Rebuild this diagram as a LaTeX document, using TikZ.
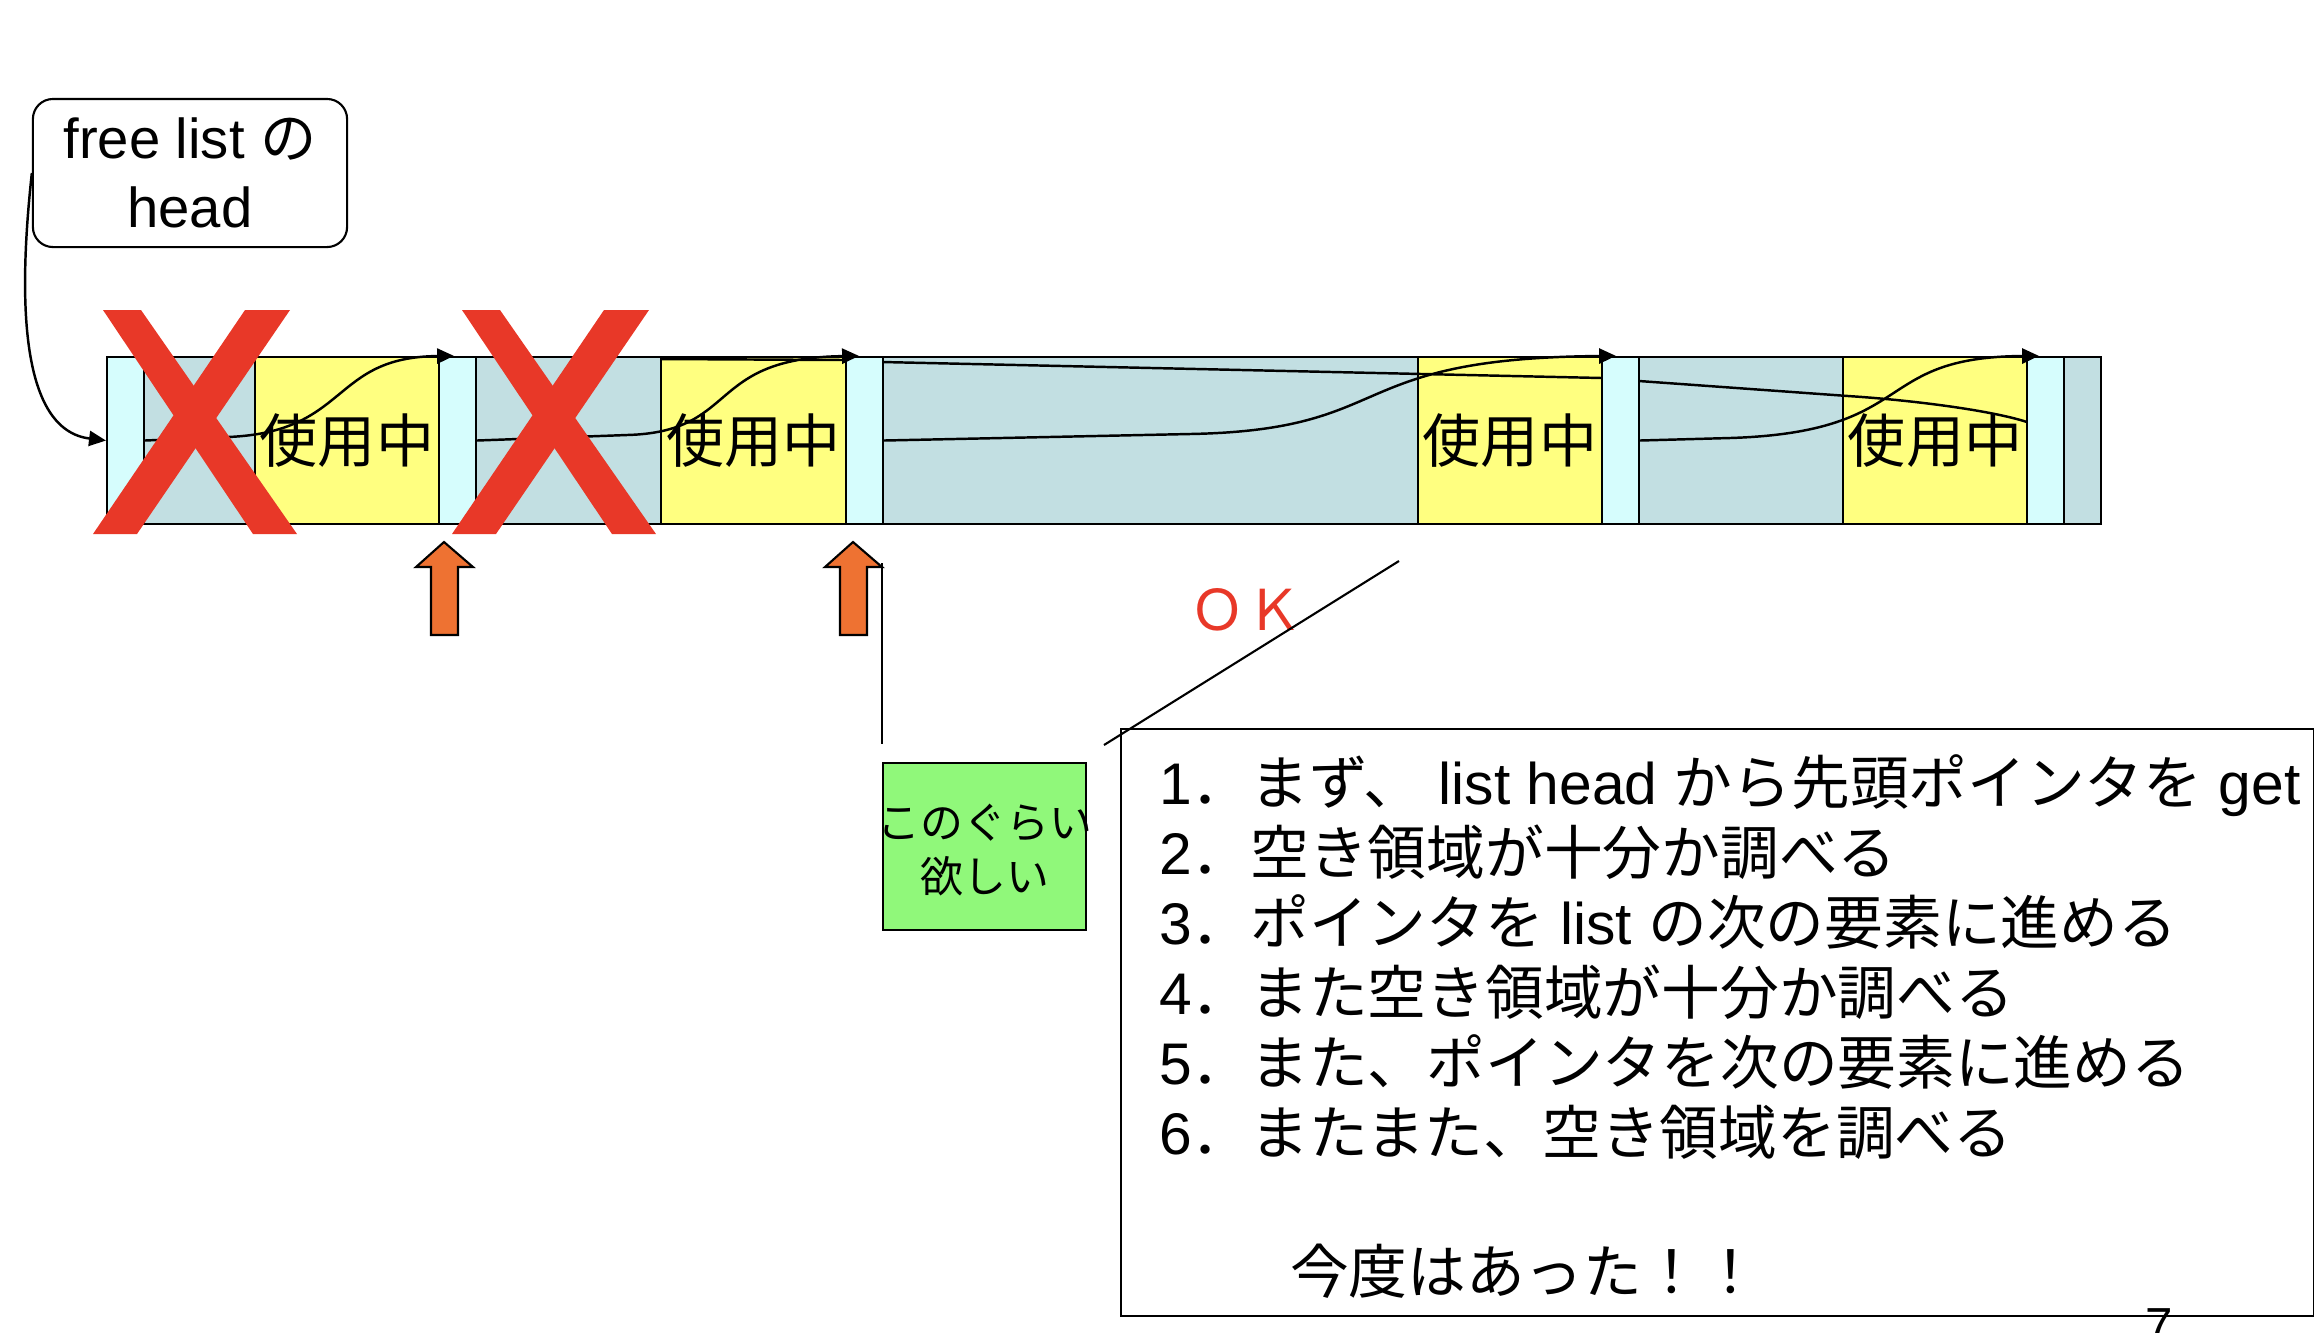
\documentclass[tikz,border=0pt]{standalone}
\usepackage{fontspec}
\setmainfont{Liberation Sans}
\newfontfamily\jpfont{Noto Sans CJK JP}
\newcommand\jp[1]{{\jpfont #1}}
\usetikzlibrary{arrows.meta}
\definecolor{freecol}{RGB}{194,223,226}
\definecolor{hdrcol}{RGB}{214,253,253}
\definecolor{usedcol}{RGB}{255,255,128}
\definecolor{wantcol}{RGB}{144,248,122}
\definecolor{upcol}{RGB}{238,114,50}
\definecolor{xred}{RGB}{232,56,40}
\begin{document}
\begin{tikzpicture}[x=0.01cm,y=-0.01cm,line width=0.6pt]
  \tikzstyle{block}=[draw=black,inner sep=0pt,minimum height=1.67cm,font=\jpfont\fontsize{16.5}{20}\selectfont]
  \tikzstyle{ptr}=[-{Triangle[length=4.8pt,width=4.3pt]},line width=0.7pt]
  \useasboundingbox (0,0) rectangle (2314,1332);

  % free and used blocks of the heap
  \foreach \name/\l/\r in {1/144/255, 2/476/661, 3/882/1418, 4/1639/1843, 5/2064/2101}
    \node[block,fill=freecol,minimum width={(\r-\l)*0.01cm}] (F-\name) at ({(\l+\r)/2},440.5) {};

  \foreach \name/\l/\r in {1/255/439, 2/661/846, 3/1418/1602, 4/1843/2027}
    \node[block,fill=usedcol,minimum width={(\r-\l)*0.01cm}] (U-\name) at ({(\l+\r)/2},440.5) {使用中};

  % old link, hidden behind the headers
  \draw[line width=0.7pt] (661,359) -- (846,360) -- (882,362) -- (1602,378) -- (1639,381)
    -- (1848,396) .. controls (1910,400) and (1990,410) .. (2027,422);

  \foreach \name/\l in {1/107, 2/439, 3/846, 4/1602, 5/2027}
    \node[block,fill=hdrcol,minimum width=0.37cm] (H-\name) at (\l+18.5,440.5) {};

  % free list head
  \node[draw,rounded corners=0.2cm,minimum width=3.14cm,minimum height=1.48cm,align=center,
        font=\fontsize{16}{19.6}\selectfont] (L) at (190,173) {free list \jp{の}\\head};
  \draw[ptr] (L.west) .. controls (18,300) and (20,430) .. (H-1.west);

  \draw[ptr] (H-1.east) -- (228,437) .. controls (350,432) and (330,357) .. ([xshift=0.16cm]H-2.north west);
  \draw[ptr] (H-2.east) -- (627,435) .. controls (740,432) and (705,358) .. ([xshift=0.14cm]H-3.north west);
  \draw[ptr] (H-3.east) -- (1190,434) .. controls (1400,430) and (1340,358) .. ([xshift=0.15cm]H-4.north west);
  \draw[ptr] (H-4.east) -- (1730,438) .. controls (1920,432) and (1870,357) .. ([xshift=0.13cm]H-5.north west);

  % crossed out
  \foreach \dx in {0,359} {
    \fill[xred] (103+\dx,310) -- (141+\dx,310) -- (297+\dx,534) -- (253+\dx,534) -- cycle;
    \fill[xred] (245+\dx,310) -- (290+\dx,310) -- (137+\dx,534) -- (93+\dx,534) -- cycle;
  }

  % search pointer
  \foreach \cx in {444,853}
    \draw[fill=upcol] (\cx,542) -- (\cx+29,567) -- (\cx+14,567) -- (\cx+14,635)
      -- (\cx-13,635) -- (\cx-13,567) -- (\cx-28,567) -- cycle;

  \node[text=xred,font=\jpfont\fontsize{16}{19}\selectfont] (ok) at (1246,610) {ＯＫ};

  \node[draw,fill=wantcol,minimum width=2.03cm,minimum height=1.67cm] (G) at (984.5,846.5) {};
  \node[align=center,inner sep=0pt,font=\jpfont\fontsize{12.2}{15.4}\selectfont] (G-text) at (985,850) {このぐらい\\欲しい};
  \draw (G.north west) ++(0,-18) -- ++(0,-181);

  \node[draw,anchor=north west,inner sep=0pt,minimum width=11.92cm,minimum height=5.87cm] (T) at (1120,728) {};
  \draw (T.north west) ++(-16,17) -- ++(295,-184);

  \foreach \i/\txt in {1/1\jp{．まず、} list head \jp{から先頭ポインタを} get,
                       2/2\jp{．空き領域が十分か調べる},
                       3/3\jp{．ポインタを} list \jp{の次の要素に進める},
                       4/4\jp{．また空き領域が十分か調べる},
                       5/5\jp{．また、ポインタを次の要素に進める},
                       6/6\jp{．またまた、空き領域を調べる}}
    \node[anchor=base west,inner sep=0pt,font=\fontsize{16.7}{20}\selectfont] (step-\i) at (1158,{734+70*\i}) {\txt};
  \node[anchor=base west,inner sep=0pt,font=\jpfont\fontsize{16.7}{20}\selectfont] (found) at (1289,1293) {今度はあった！！};

  \node[anchor=base,inner sep=0pt,font=\fontsize{14}{16}\selectfont] (page) at (2159,1342) {7};
\end{tikzpicture}
\end{document}
